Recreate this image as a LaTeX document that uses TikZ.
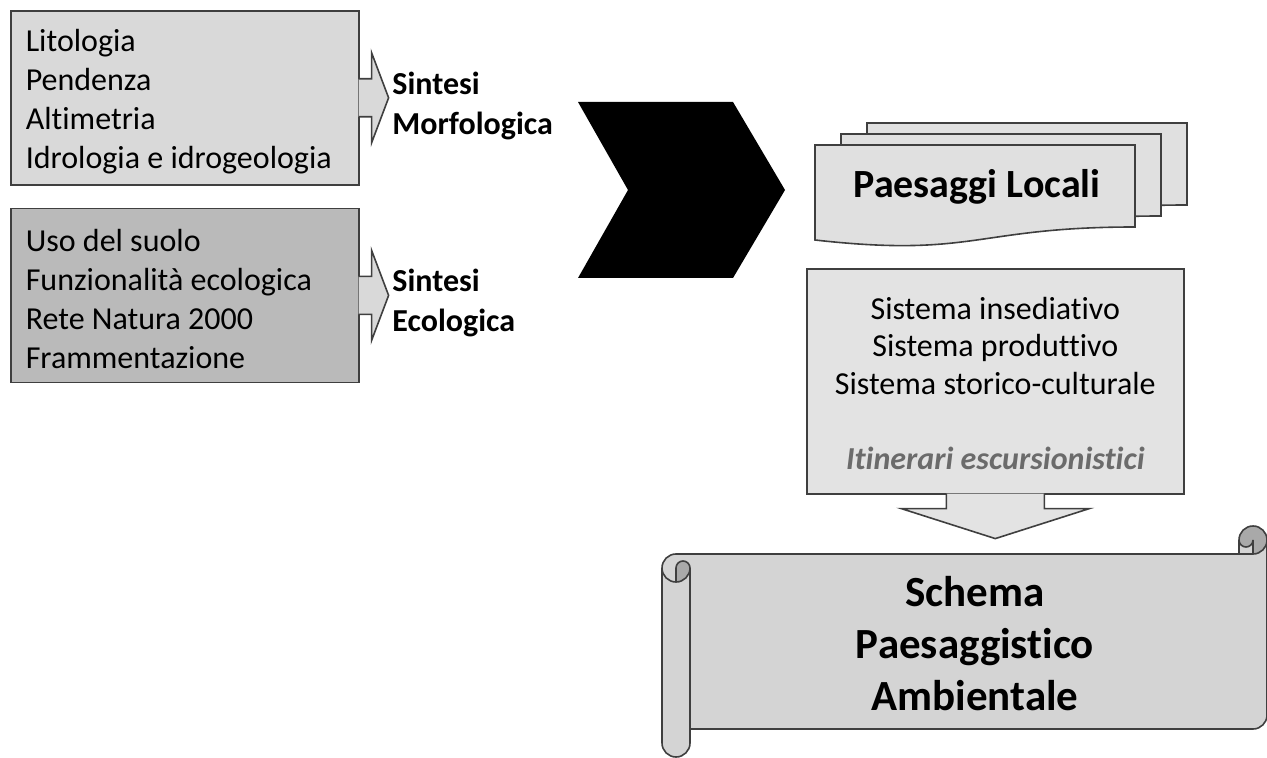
\documentclass[tikz,border=0pt]{standalone}
\usepackage{fontspec}
\setmainfont[Ligatures=NoCommon]{Carlito}
\usetikzlibrary{positioning,calc}
\definecolor{edge}{HTML}{3F3F3F}
\definecolor{boxA}{HTML}{D9D9D9}
\definecolor{boxB}{HTML}{BABABA}
\definecolor{docfill}{HTML}{E0E0E0}
\definecolor{sysfill}{HTML}{E3E3E3}
\definecolor{scrollfill}{HTML}{D4D4D4}
\definecolor{curlfill}{HTML}{A9A9A9}
\definecolor{itin}{HTML}{6B6B6B}

\begin{document}
\begin{tikzpicture}[auto,x=0.5pt,y=-0.5pt,line width=0.8pt]
        \tikzstyle{listbox}=[draw=edge, anchor=north west, minimum width=174pt, minimum height=87pt, text width=159pt, inner xsep=7.5pt, align=flush left, font=\fontsize{16}{19.5}\selectfont]
        \tikzstyle{sintesi}=[font=\fontsize{16}{20}\selectfont\bfseries, align=flush left, inner sep=0pt]
        \tikzstyle{blockarrow}=[draw=edge, fill=boxA]
        \tikzstyle{sheet}=[draw=edge, fill=docfill]
        \useasboundingbox (0,0) rectangle (1267,758);

        % left column
        \node[listbox, fill=boxA] (Morfo) at (10,10) {\rule{0pt}{15pt}Litologia\\Pendenza\\Altimetria\\Idrologia e idrogeologia};
        \node[listbox, fill=boxB] (Eco) [below=11pt of Morfo] {\rule{0pt}{15pt}Uso del suolo\\Funzionalità ecologica\\Rete Natura 2000\\Frammentazione};
        \node[sintesi] (MorfoLab) [right=16pt of Morfo, yshift=-4pt] {Sintesi\\Morfologica};
        \node[sintesi] (EcoLab) [right=16pt of Eco, yshift=-4pt] {Sintesi\\Ecologica};

        \path[blockarrow] ($(Morfo.east)+(-1,-19)$) -- ++(13,0) -- ++(0,-26) -- ++(17,45) -- ++(-17,45) -- ++(0,-26) -- ++(-13,0);
        \path[blockarrow] ($(Eco.east)+(-1,-19)$) -- ++(13,0) -- ++(0,-26) -- ++(17,45) -- ++(-17,45) -- ++(0,-26) -- ++(-13,0);

        % big chevron
        \fill (578,102) -- (733,102) -- (785,190) -- (733,278) -- (578,278) -- (628,190) -- cycle;

        % stack of sheets
        \foreach \dx/\dy in {52/-22, 26/-11, 0/0}
          \path[sheet, shift={(\dx,\dy)}] (815,145) -- (1135,145) -- (1135,227) .. controls (975,227) and (975,258) .. (815,240) -- cycle;
        \node[font=\fontsize{20}{24}\selectfont\bfseries, anchor=base] (Locali) at (977,198) {Paesaggi Locali};

        \node[draw=edge, fill=sysfill, anchor=north west, minimum width=188.5pt, minimum height=112.5pt, align=center, font=\fontsize{16}{18.75}\selectfont] (Sistemi) at (806,268)
          {\rule{0pt}{13pt}Sistema insediativo\\Sistema produttivo\\Sistema storico-culturale\\[18.75pt]{\bfseries\itshape\color{itin}Itinerari escursionistici}};
        \path[blockarrow, fill=sysfill] ($(Sistemi.south)+(-49,-1)$) -- ++(0,15) -- ++(-45,0) -- ++(94,30) -- ++(94,-30) -- ++(-45,0) -- ++(0,-15);

        % scroll
        \fill[scrollfill] (1267,540) arc[start angle=0,end angle=90,radius=14] -- (1253,540) arc[start angle=0,end angle=180,radius=7] -- (1239,554) -- (676,554) arc[start angle=270,end angle=180,radius=14] -- (662,743) arc[start angle=180,end angle=0,radius=14] -- (690,729) -- (1253,729) arc[start angle=90,end angle=0,radius=14] -- cycle;
        \fill[curlfill] (1253,554) arc[start angle=90,end angle=-180,radius=14] arc[start angle=180,end angle=0,radius=7] -- cycle;
        \fill[curlfill] (676,582) arc[start angle=90,end angle=0,radius=14] arc[start angle=0,end angle=-180,radius=7] -- cycle;
        \draw[edge] (662,568) arc[start angle=180,end angle=270,radius=14] -- (1239,554) -- (1239,540) arc[start angle=180,end angle=360,radius=14] -- (1267,715) arc[start angle=0,end angle=90,radius=14] -- (690,729) -- (690,743) arc[start angle=0,end angle=180,radius=14] -- cycle;
        \draw[edge] (1239,554) -- (1253,554) arc[start angle=90,end angle=0,radius=14];
        \draw[edge] (1253,554) -- (1253,540) arc[start angle=0,end angle=180,radius=7];
        \draw[edge] (676,582) -- (676,568) arc[start angle=180,end angle=360,radius=7] arc[start angle=0,end angle=180,radius=14];
        \draw[edge] (690,568) -- (690,729);
        \node[font=\fontsize{21.5}{26}\selectfont\bfseries, align=center] (Schema) at (975,644) {Schema\\Paesaggistico\\Ambientale};
\end{tikzpicture}
\end{document}
